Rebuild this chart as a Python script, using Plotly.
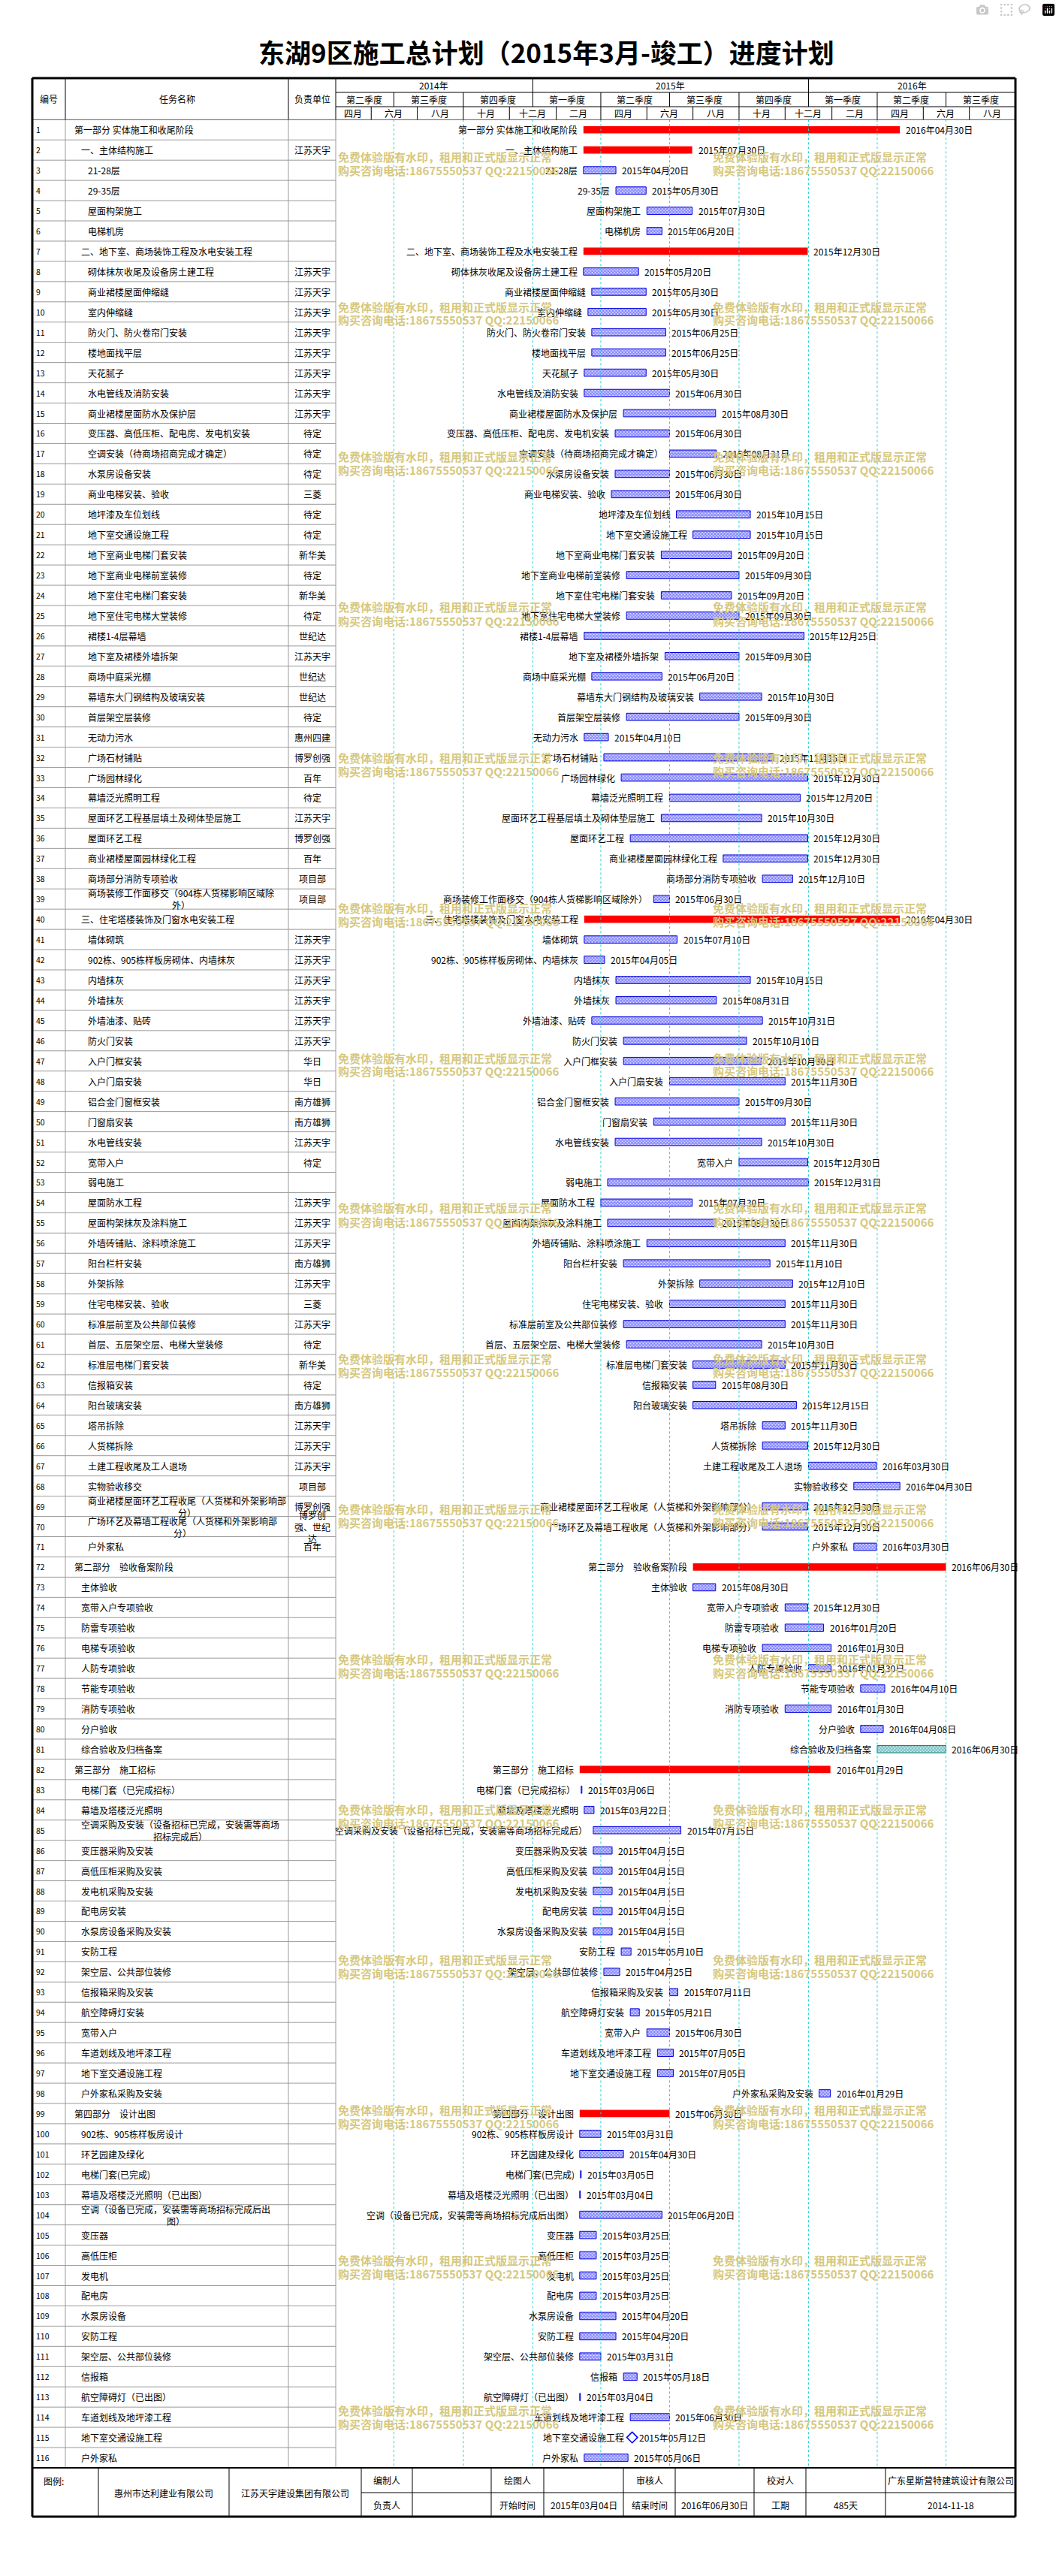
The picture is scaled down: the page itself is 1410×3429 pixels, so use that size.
import plotly.graph_objects as go
from datetime import date, timedelta

W, H = 1410, 3429
FONT = "Noto Sans CJK SC"

# ---------------- data ----------------
task_ids = list(range(1, 117))
task_names = [
    "第一部分 实体施工和收尾阶段", "一、主体结构施工", "21-28层", "29-35层", "屋面构架施工", "电梯机房",
    "二、地下室、商场装饰工程及水电安装工程", "砌体抹灰收尾及设备房土建工程", "商业裙楼屋面伸缩缝", "室内伸缩缝",
    "防火门、防火卷帘门安装", "楼地面找平层", "天花腻子", "水电管线及消防安装", "商业裙楼屋面防水及保护层",
    "变压器、高低压柜、配电房、发电机安装", "空调安装（待商场招商完成才确定）", "水泵房设备安装", "商业电梯安装、验收",
    "地坪漆及车位划线", "地下室交通设施工程", "地下室商业电梯门套安装", "地下室商业电梯前室装修",
    "地下室住宅电梯门套安装", "地下室住宅电梯大堂装修", "裙楼1-4层幕墙", "地下室及裙楼外墙拆架", "商场中庭采光棚",
    "幕墙东大门钢结构及玻璃安装", "首层架空层装修", "无动力污水", "广场石材铺贴", "广场园林绿化", "幕墙泛光照明工程",
    "屋面环艺工程基层填土及砌体垫层施工", "屋面环艺工程", "商业裙楼屋面园林绿化工程", "商场部分消防专项验收",
    "商场装修工作面移交（904栋人货梯影响区域除外）", "三、住宅塔楼装饰及门窗水电安装工程", "墙体砌筑",
    "902栋、905栋样板房砌体、内墙抹灰", "内墙抹灰", "外墙抹灰", "外墙油漆、贴砖", "防火门安装", "入户门框安装",
    "入户门扇安装", "铝合金门窗框安装", "门窗扇安装", "水电管线安装", "宽带入户", "弱电施工", "屋面防水工程",
    "屋面构架抹灰及涂料施工", "外墙砖铺贴、涂料喷涂施工", "阳台栏杆安装", "外架拆除", "住宅电梯安装、验收",
    "标准层前室及公共部位装修", "首层、五层架空层、电梯大堂装修", "标准层电梯门套安装", "信报箱安装", "阳台玻璃安装",
    "塔吊拆除", "人货梯拆除", "土建工程收尾及工人退场", "实物验收移交",
    "商业裙楼屋面环艺工程收尾（人货梯和外架影响部分）", "广场环艺及幕墙工程收尾（人货梯和外架影响部分）", "户外家私",
    "第二部分\u3000验收备案阶段", "主体验收", "宽带入户专项验收", "防雷专项验收", "电梯专项验收", "人防专项验收",
    "节能专项验收", "消防专项验收", "分户验收", "综合验收及归档备案",
    "第三部分\u3000施工招标", "电梯门套（已完成招标）", "幕墙及塔楼泛光照明",
    "空调采购及安装（设备招标已完成，安装需等商场招标完成后）", "变压器采购及安装", "高低压柜采购及安装",
    "发电机采购及安装", "配电房安装", "水泵房设备采购及安装", "安防工程", "架空层、公共部位装修", "信报箱采购及安装",
    "航空障碍灯安装", "宽带入户", "车道划线及地坪漆工程", "地下室交通设施工程", "户外家私采购及安装",
    "第四部分\u3000设计出图", "902栋、905栋样板房设计", "环艺园建及绿化", "电梯门套(已完成)",
    "幕墙及塔楼泛光照明（已出图）", "空调（设备已完成，安装需等商场招标完成后出图）", "变压器", "高低压柜", "发电机",
    "配电房", "水泵房设备", "安防工程", "架空层、公共部位装修", "信报箱", "航空障碍灯（已出图）",
    "车道划线及地坪漆工程", "地下室交通设施工程", "户外家私",
]
indent_level = ([0, 1, 2, 2, 2, 2, 1] + [2] * 32 + [1] + [2] * 31 + [0] + [1] * 9 + [0] + [1] * 16 + [0] + [1] * 17)
units = (["", "江苏天宇", "", "", "", "", ""] + ["江苏天宇"] * 8 +
         ["待定", "待定", "待定", "三菱", "待定", "待定", "新华美", "待定", "新华美", "待定", "世纪达", "江苏天宇",
          "世纪达", "世纪达", "待定", "惠州四建", "博罗创强", "百年", "待定", "江苏天宇", "博罗创强", "百年", "项目部",
          "项目部", ""] + ["江苏天宇"] * 6 +
         ["华日", "华日", "南方雄狮", "南方雄狮", "江苏天宇", "待定", "", "江苏天宇", "江苏天宇", "江苏天宇", "南方雄狮",
          "江苏天宇", "三菱", "江苏天宇", "待定", "新华美", "待定", "南方雄狮", "江苏天宇", "江苏天宇", "江苏天宇",
          "项目部", "博罗创强", "博罗创<br>强、世纪<br>达", "百年"] + [""] * 45)
starts = [
    "2015-03-09", "2015-03-09", "2015-03-09", "2015-04-21", "2015-06-01", "2015-06-01", "2015-03-09", "2015-03-09",
    "2015-03-20", "2015-03-15", "2015-03-20", "2015-03-20", "2015-03-10", "2015-03-10", "2015-05-01", "2015-04-20",
    "2015-07-01", "2015-04-20", "2015-04-15", "2015-07-10", "2015-08-01", "2015-06-20", "2015-05-05", "2015-06-20",
    "2015-05-05", "2015-03-10", "2015-06-25", "2015-03-20", "2015-08-10", "2015-05-05", "2015-03-10", "2015-04-05",
    "2015-04-28", "2015-07-01", "2015-06-20", "2015-05-10", "2015-09-10", "2015-11-01", "2015-06-10", "2015-03-10",
    "2015-03-10", "2015-03-10", "2015-04-21", "2015-04-21", "2015-03-20", "2015-05-01", "2015-05-01", "2015-07-01",
    "2015-04-20", "2015-06-10", "2015-04-20", "2015-10-01", "2015-04-10", "2015-04-01", "2015-04-10", "2015-06-01",
    "2015-05-01", "2015-08-10", "2015-07-01", "2015-05-01", "2015-05-05", "2015-08-01", "2015-08-01", "2015-08-01",
    "2015-11-01", "2015-11-01", "2016-01-01", "2016-03-01", "2015-11-01", "2015-11-01", "2016-03-01", "2015-08-01",
    "2015-08-01", "2015-12-01", "2015-12-01", "2015-11-01", "2016-01-01", "2016-03-10", "2015-12-01", "2016-03-10",
    "2016-04-01", "2015-03-04", "2015-03-06", "2015-03-10", "2015-03-22", "2015-03-22", "2015-03-22", "2015-03-22",
    "2015-03-22", "2015-03-22", "2015-04-28", "2015-04-05", "2015-07-01", "2015-05-10", "2015-06-01", "2015-06-15",
    "2015-06-15", "2016-01-15", "2015-03-04", "2015-03-04", "2015-03-04", "2015-03-05", "2015-03-04", "2015-03-04",
    "2015-03-04", "2015-03-04", "2015-03-04", "2015-03-04", "2015-03-04", "2015-03-04", "2015-03-04", "2015-05-01",
    "2015-03-04", "2015-05-10", "2015-05-12", "2015-03-10",
]
ends = [
    "2016-04-30", "2015-07-30", "2015-04-20", "2015-05-30", "2015-07-30", "2015-06-20", "2015-12-30", "2015-05-20",
    "2015-05-30", "2015-05-30", "2015-06-25", "2015-06-25", "2015-05-30", "2015-06-30", "2015-08-30", "2015-06-30",
    "2015-08-31", "2015-06-30", "2015-06-30", "2015-10-15", "2015-10-15", "2015-09-20", "2015-09-30", "2015-09-20",
    "2015-09-30", "2015-12-25", "2015-09-30", "2015-06-20", "2015-10-30", "2015-09-30", "2015-04-10", "2015-11-15",
    "2015-12-30", "2015-12-20", "2015-10-30", "2015-12-30", "2015-12-30", "2015-12-10", "2015-06-30", "2016-04-30",
    "2015-07-10", "2015-04-05", "2015-10-15", "2015-08-31", "2015-10-31", "2015-10-10", "2015-10-30", "2015-11-30",
    "2015-09-30", "2015-11-30", "2015-10-30", "2015-12-30", "2015-12-31", "2015-07-30", "2015-08-30", "2015-11-30",
    "2015-11-10", "2015-12-10", "2015-11-30", "2015-11-30", "2015-10-30", "2015-11-30", "2015-08-30", "2015-12-15",
    "2015-11-30", "2015-12-30", "2016-03-30", "2016-04-30", "2015-12-30", "2015-12-30", "2016-03-30", "2016-06-30",
    "2015-08-30", "2015-12-30", "2016-01-20", "2016-01-30", "2016-01-30", "2016-04-10", "2016-01-30", "2016-04-08",
    "2016-06-30", "2016-01-29", "2015-03-06", "2015-03-22", "2015-07-15", "2015-04-15", "2015-04-15", "2015-04-15",
    "2015-04-15", "2015-04-15", "2015-05-10", "2015-04-25", "2015-07-11", "2015-05-21", "2015-06-30", "2015-07-05",
    "2015-07-05", "2016-01-29", "2015-06-30", "2015-03-31", "2015-04-30", "2015-03-05", "2015-03-04", "2015-06-20",
    "2015-03-25", "2015-03-25", "2015-03-25", "2015-03-25", "2015-04-20", "2015-04-20", "2015-03-31", "2015-05-18",
    "2015-03-04", "2015-06-30", "2015-05-12", "2015-05-06",
]
summary_rows = [1, 2, 7, 40, 72, 82, 99]
final_rows = [81]
milestone_rows = [115]

year_labels = ["2014年", "2015年", "2016年"]
year_bounds = ["2014-04-15", "2015-01-01", "2016-01-01", "2016-10-01"]
quarter_labels = ["第二季度", "第三季度", "第四季度", "第一季度", "第二季度", "第三季度", "第四季度",
                  "第一季度", "第二季度", "第三季度"]
quarter_bounds = ["2014-04-15", "2014-07-01", "2014-10-01", "2015-01-01", "2015-04-01", "2015-07-01",
                  "2015-10-01", "2016-01-01", "2016-04-01", "2016-07-01", "2016-10-01"]
month_labels = ["四月", "六月", "八月", "十月", "十二月", "二月", "四月", "六月", "八月", "十月", "十二月",
                "二月", "四月", "六月", "八月"]
month_bounds = ["2014-04-15", "2014-06-01", "2014-08-01", "2014-10-01", "2014-12-01", "2015-02-01",
                "2015-04-01", "2015-06-01", "2015-08-01", "2015-10-01", "2015-12-01", "2016-02-01",
                "2016-04-01", "2016-06-01", "2016-08-01", "2016-10-01"]

title_text = "东湖9区施工总计划（2015年3月-竣工）进度计划"
footer_company_1 = "惠州市达利建业有限公司"
footer_company_2 = "江苏天宇建设集团有限公司"
footer_designer = "广东星斯营特建筑设计有限公司"
project_start = "2015年03月04日"
project_end = "2016年06月30日"
project_days = "485天"
plan_date = "2014-11-18"
watermark_1 = "免费体验版有水印，租用和正式版显示正常"
watermark_2 = "购买咨询电话:18675550537 QQ:22150066"

# ---------------- geometry (pixels) ----------------
T_TOP, T_Y1, T_Y2, T_HEAD = 104.0, 123.0, 142.0, 159.3
ROWS_BOT = 3285.0
F_MID, F_BOT = 3318.0, 3350.0
X_L, X_NUM, X_NAME, X_UNIT, X_R = 43.0, 87.0, 384.0, 447.0, 1352.0
N = len(task_ids)
PITCH = (ROWS_BOT - T_HEAD) / N


def px(x):
    return x / W


def py(y):
    return 1 - y / H


def dd(s):
    return date.fromisoformat(s)


def fmt_cn(s):
    v = dd(s)
    return f"{v.year}年{v.month:02d}月{v.day:02d}日"


def mid_date(a, b):
    da, db = dd(a), dd(b)
    return (da + (db - da) / 2).isoformat()


DAY_MS = 86400000
fig = go.Figure()

blue_rows = [i for i in task_ids if i not in summary_rows + final_rows + milestone_rows]


def bar_trace(rows, marker):
    return go.Bar(
        orientation="h", y=rows,
        base=[starts[i - 1] for i in rows],
        x=[((dd(ends[i - 1]) - dd(starts[i - 1])).days + 1) * DAY_MS for i in rows],
        width=0.36, marker=marker, showlegend=False, hoverinfo="skip")


fig.add_trace(bar_trace(summary_rows, dict(color="#ff0000", line=dict(width=0))))
fig.add_trace(bar_trace(blue_rows, dict(
    color="#d8d8ff", line=dict(color="#0000dd", width=1),
    pattern=dict(shape="x", fgcolor="#1010ff", bgcolor="#e4e4ff", size=3, solidity=0.6))))
fig.add_trace(bar_trace(final_rows, dict(
    color="#d0eeee", line=dict(color="#008080", width=1),
    pattern=dict(shape="x", fgcolor="#008080", bgcolor="#dff3f3", size=3, solidity=0.6))))
fig.add_trace(go.Scatter(
    x=[ends[i - 1] + " 12:00" for i in milestone_rows], y=milestone_rows, mode="markers",
    marker=dict(symbol="diamond-open", size=11, color="#0000ff", line=dict(width=1.6, color="#0000ff")),
    showlegend=False, hoverinfo="skip"))

ann = []
shapes = []


def A(x, y, text, size=12, xanchor="center", xref="paper", yref="paper", color="black", **kw):
    ann.append(dict(x=x, y=y, text=text, xref=xref, yref=yref, xanchor=xanchor, yanchor="middle",
                    showarrow=False, font=dict(family=FONT, size=size, color=color), borderpad=0, **kw))


def L(x0, y0, x1, y1, color="black", width=1, xref="paper", yref="paper", dash="solid"):
    shapes.append(dict(type="line", x0=x0, y0=y0, x1=x1, y1=y1, xref=xref, yref=yref,
                       line=dict(color=color, width=width, dash=dash), layer="above"))


# gantt labels
for i in task_ids:
    s, e = starts[i - 1], ends[i - 1]
    if i in milestone_rows:
        xs = e + " 12:00"
        A(xs, i, task_names[i - 1], 12, "right", "x", "y", xshift=-10)
        A(xs, i, fmt_cn(e), 12, "left", "x", "y", xshift=8)
    else:
        xe = (dd(e) + timedelta(days=1)).isoformat()
        A(s, i, task_names[i - 1], 12, "right", "x", "y", xshift=-7)
        A(xe, i, fmt_cn(e), 12, "left", "x", "y", xshift=7)

# left table text
wrap_tail = {39: 2, 69: 2, 70: 2, 85: 6, 104: 2}
indent_px = [98, 107, 116]
for i in task_ids:
    A(px(X_L + 4), i, str(i), 10.5, "left", "paper", "y")
    nm = task_names[i - 1]
    if i in wrap_tail:
        k = wrap_tail[i]
        nm = nm[:-k] + "<br>" + nm[-k:]
    A(px(indent_px[indent_level[i - 1]]), i, nm, 12, "left", "paper", "y")
    if units[i - 1]:
        A(px((X_NAME + X_UNIT) / 2), i, units[i - 1], 12, "center", "paper", "y")

# table grid lines (left part)
path = ""
for k in range(1, N):
    yk = py(T_HEAD + k * PITCH)
    path += f"M{px(X_L)},{yk} L{px(X_UNIT)},{yk} "
shapes.append(dict(type="path", path=path, xref="paper", yref="paper",
                   line=dict(color="#9a9a9a", width=1), layer="above"))
for xv in (X_NUM, X_NAME, X_UNIT):
    L(px(xv), py(T_HEAD), px(xv), py(ROWS_BOT), color="#9a9a9a")
    L(px(xv), py(T_TOP), px(xv), py(T_HEAD), color="black")

# quarter dotted lines in gantt
for q in quarter_bounds[1:-1]:
    L(q, py(T_HEAD), q, py(ROWS_BOT), color="#22d3d3", width=1, xref="x", dash="dot")

# header
L(px(X_UNIT), py(T_Y1), px(X_R), py(T_Y1))
L(px(X_UNIT), py(T_Y2), px(X_R), py(T_Y2))
L(px(X_L), py(T_HEAD), px(X_R), py(T_HEAD), color="#555555")
for b in year_bounds[1:-1]:
    L(b, py(T_TOP), b, py(T_Y1), xref="x")
for b in quarter_bounds[1:-1]:
    L(b, py(T_Y1), b, py(T_Y2), xref="x")
for b in month_bounds[1:-1]:
    L(b, py(T_Y2), b, py(T_HEAD), xref="x")
for k, lab in enumerate(year_labels):
    A(mid_date(year_bounds[k], year_bounds[k + 1]), py((T_TOP + T_Y1) / 2), lab, 12, "center", "x", "paper")
for k, lab in enumerate(quarter_labels):
    A(mid_date(quarter_bounds[k], quarter_bounds[k + 1]), py((T_Y1 + T_Y2) / 2), lab, 12, "center", "x", "paper")
for k, lab in enumerate(month_labels):
    A(mid_date(month_bounds[k], month_bounds[k + 1]), py((T_Y2 + T_HEAD) / 2), lab, 12, "center", "x", "paper")
A(px((X_L + X_NUM) / 2), py((T_TOP + T_HEAD) / 2), "编号", 12)
A(px((X_NUM + X_NAME) / 2), py((T_TOP + T_HEAD) / 2), "任务名称", 12)
A(px((X_NAME + X_UNIT) / 2), py((T_TOP + T_HEAD) / 2), "负责单位", 12)

# title
A(px(727), py(68), "<b>" + title_text + "</b>", 35)

# footer
fc = [43, 131, 305, 481, 549, 654, 724, 830, 899, 1004, 1073, 1179, 1352]
for xv in fc[1:-1]:
    L(px(xv), py(ROWS_BOT), px(xv), py(F_BOT))
L(px(481), py(F_MID), px(X_R), py(F_MID))
L(px(X_L), py(ROWS_BOT), px(X_R), py(ROWS_BOT), width=2)
yr1, yr2 = py((ROWS_BOT + F_MID) / 2), py((F_MID + F_BOT) / 2)
A(px(57), py(3302), "图例:", 12, "left")
A(px(218), py(3318), footer_company_1, 12)
A(px(393), py(3318), footer_company_2, 12)
row1 = ["编制人", "", "绘图人", "", "审核人", "", "校对人", "", footer_designer]
row2 = ["负责人", "", "开始时间", project_start, "结束时间", project_end, "工期", project_days, plan_date]
for k in range(9):
    cx = px((fc[3 + k] + fc[4 + k]) / 2)
    if row1[k]:
        A(cx, yr1, row1[k], 12)
    if row2[k]:
        A(cx, yr2, row2[k], 12)

# outer borders
L(px(X_L), py(T_TOP), px(X_R), py(T_TOP), width=3)
L(px(X_L), py(F_BOT), px(X_R), py(F_BOT), width=3)
L(px(X_L), py(T_TOP), px(X_L), py(F_BOT), width=3)
L(px(X_R), py(T_TOP), px(X_R), py(F_BOT), width=3)

# watermarks
for k in range(16):
    y0 = 208 + 200 * k
    for xw in (449, 948):
        A(px(xw), py(y0), "<b>" + watermark_1 + "</b>", 15, "left", color="#d6c880")
        A(px(xw), py(y0 + 18), "<b>" + watermark_2 + "</b>", 15, "left", color="#d6c880")

fig.update_layout(
    width=W, height=H, margin=dict(l=0, r=0, t=0, b=0),
    paper_bgcolor="white", plot_bgcolor="white",
    font=dict(family=FONT, size=12, color="black"),
    barmode="overlay", showlegend=False,
    xaxis=dict(type="date", range=[quarter_bounds[0], quarter_bounds[-1]], domain=[px(X_UNIT), px(X_R)],
               showgrid=False, zeroline=False, showticklabels=False, showline=False, fixedrange=True),
    yaxis=dict(range=[N + 0.5, 0.5], domain=[py(ROWS_BOT), py(T_HEAD)], showgrid=False, zeroline=False,
               showticklabels=False, showline=False, fixedrange=True),
    annotations=ann, shapes=shapes,
)

fig.write_html("out.html", post_script="document.body.style.margin='0';")
